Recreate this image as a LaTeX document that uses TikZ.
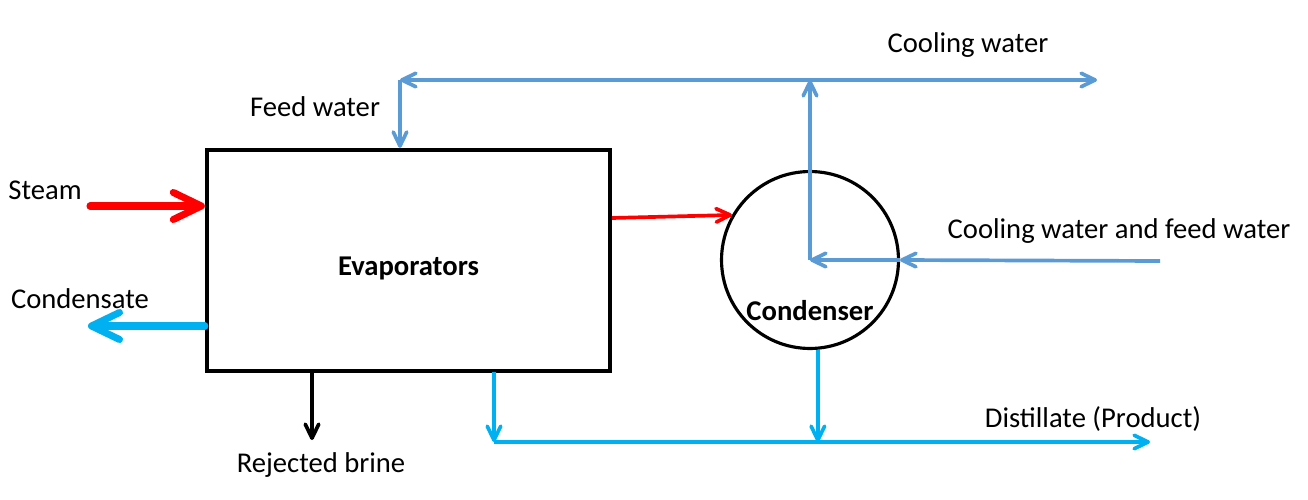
\documentclass[tikz,border=0pt]{standalone}
\usepackage{fontspec}
\setmainfont{Carlito}
\usetikzlibrary{positioning,arrows.meta}
\definecolor{cwat}{RGB}{91,155,213}
\definecolor{dist}{RGB}{0,176,240}
\definecolor{stm}{RGB}{255,0,0}

\begin{document}
\begin{tikzpicture}[x=0.02cm,y=-0.02cm,font=\fontsize{16.3}{19}\selectfont,
  >={Straight Barb[length=2.8mm,width=2.7mm,round]},
  unit/.style={draw,line width=2.5pt,minimum width=8.06cm,minimum height=4.42cm},
  cnd/.style={draw,circle,line width=1.8pt,minimum size=3.54cm,inner sep=0pt},
  ttl/.style={font=\fontsize{16.3}{19}\selectfont\bfseries},
  cw/.style={cwat,line width=2.1pt,->},
  ds/.style={dist,line width=2.1pt,->},
  big/.style={line width=4pt,line cap=round,-{Straight Barb[length=5.6mm,width=5.4mm,round]}},
  io/.style={inner sep=0pt}]
  \useasboundingbox (0,0) rectangle (1308,500);
  % units
  \node[unit,label={[ttl,yshift=-0.15cm]center:Evaporators}] (evap) at (408.5,260.5) {};
  \node[cnd,label={[ttl,yshift=-1.02cm]center:Condenser}] (cond) at (810,260) {};
  % labels
  \node[io] (steam) at (45,190) {Steam};
  \node[io] (cdl) at (80,299) {Condensate};
  \node[io] (fwl) at (315,107) {Feed water};
  \node[io] (cwl) at (968,45) {Cooling water};
  \node[io] (cfl) at (1119,231) {Cooling water and feed water};
  \node[io] (dsl) at (1093,419) {Distillate (Product)};
  \node[io] (brl) at (321,465) {Rejected brine};
  % free ends and junctions
  \coordinate (stin) at (90,206);
  \coordinate (cdout) at (88,326);
  \coordinate (fwtop) at (400,80);
  \coordinate (jtop) at (810,80);
  \coordinate (cwout) at (1097,80);
  \coordinate (cfin) at (1160,261);
  \coordinate (brout) at (312,440);
  \coordinate (evout) at (494,372);
  \coordinate (jbot) at (494,442);
  \coordinate (dsout) at (1150,442);
  % steam side
  \draw[big,stm] (stin) -- (stin -| evap.west);
  \draw[big,dist] (cdout -| evap.west) -- (cdout);
  \draw[stm,line width=2.1pt,->] (evap.east |- 0,218) -- (cond.150);
  % cooling water
  \draw[cw] (jtop) -- (fwtop);
  \draw[cw] (fwtop) -- (fwtop |- evap.north);
  \draw[cw] (jtop) -- (cwout);
  \draw[cw] (cond.center) -- (jtop);
  \draw[cw] (cfin) -- (cond.east);
  \draw[cw] (cond.east) -- (cond.center);
  % brine and distillate
  \draw[line width=2.1pt,->] (evap.south -| brout) -- (brout);
  \draw[ds] (evout) -- (jbot);
  \draw[ds] (cond.-85) -- (cond.-85 |- jbot);
  \draw[ds] (jbot) -- (dsout);
\end{tikzpicture}
\end{document}
